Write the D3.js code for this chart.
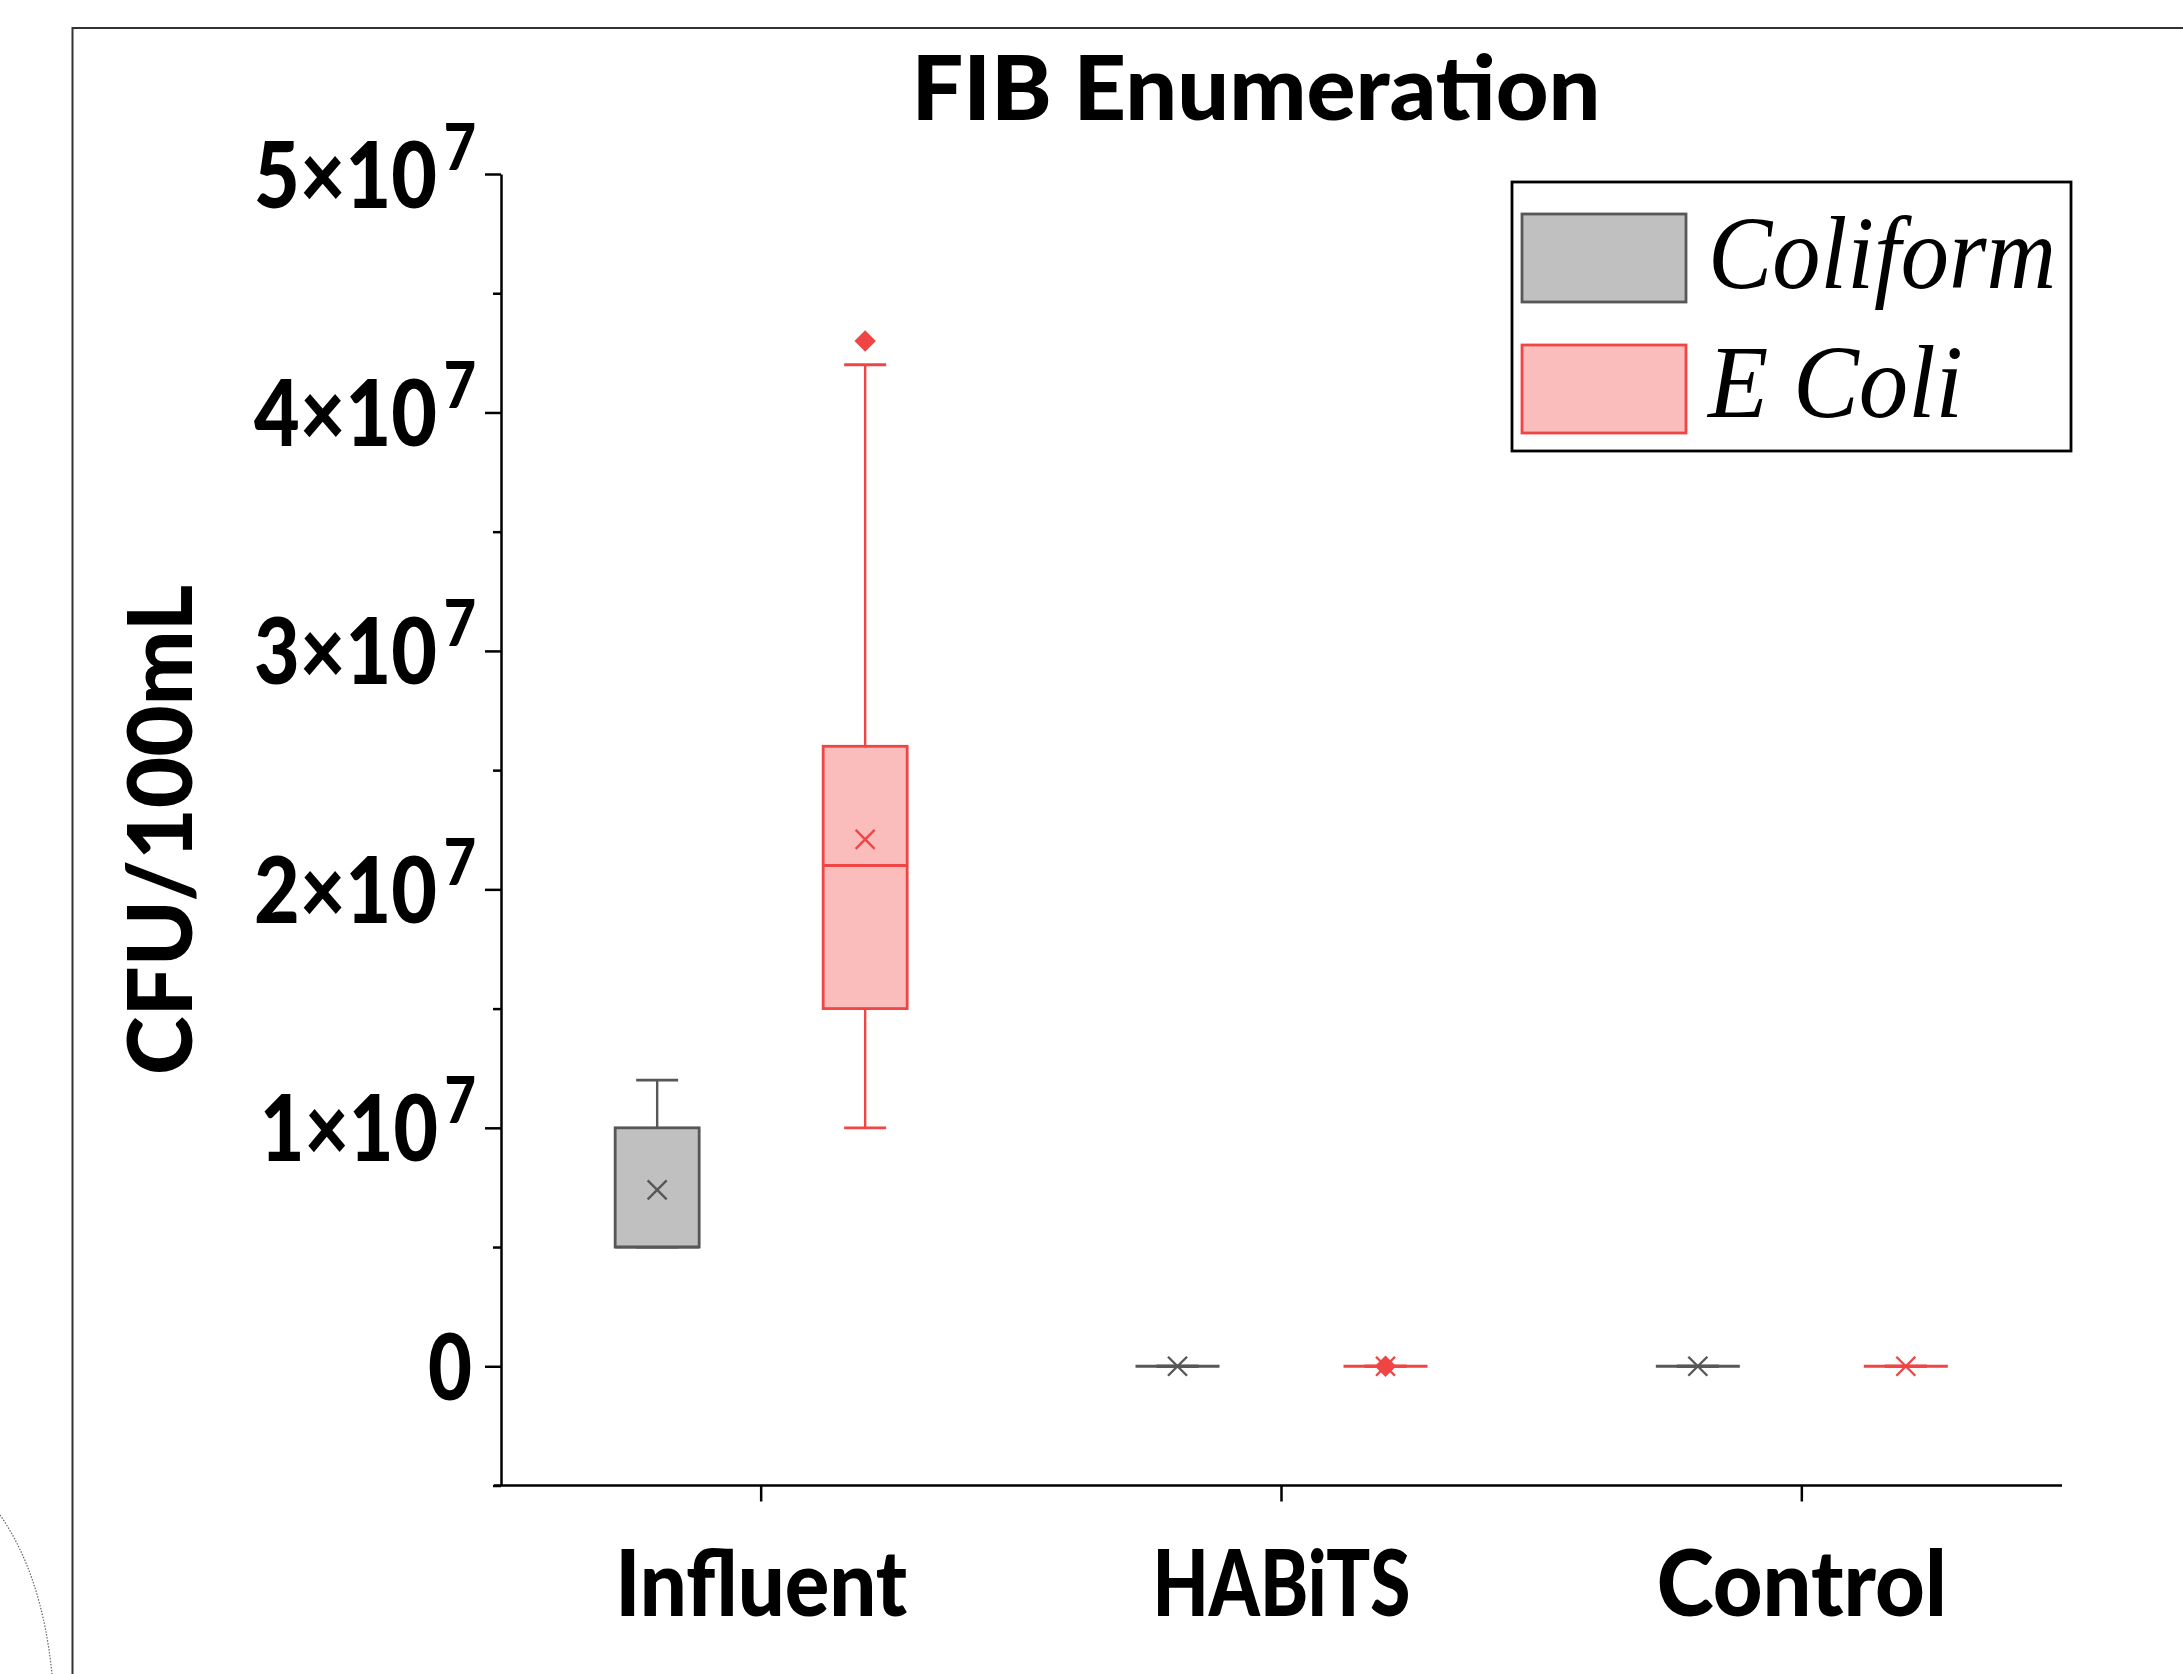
<!DOCTYPE html>
<html>
<head>
<meta charset="utf-8">
<script src="https://cdn.jsdelivr.net/npm/d3@7"></script>
<style>
  html, body { margin: 0; padding: 0; background: #ffffff; }
  svg { display: block; }
</style>
</head>
<body>
<script>
// ---------------- DATA ----------------
const categories = ["Influent", "HABiTS", "Control"];
const seriesNames = ["Coliform", "E Coli"];

const coliformMin     = [5.0e6, 0, 0];
const coliformQ1      = [5.0e6, 0, 0];
const coliformMedian  = [5.0e6, 0, 0];
const coliformQ3      = [1.0e7, 0, 0];
const coliformMax     = [1.2e7, 0, 0];
const coliformMean    = [7.4e6, 0, 0];
const coliformOutliers = [[], [], []];

const ecoliMin     = [1.0e7, 0, 0];
const ecoliQ1      = [1.5e7, 0, 0];
const ecoliMedian  = [2.1e7, 0, 0];
const ecoliQ3      = [2.6e7, 0, 0];
const ecoliMax     = [4.2e7, 0, 0];
const ecoliMean    = [2.21e7, 0, 0];
const ecoliOutliers = [[4.3e7], [0], []];

const yMajorTicks = [0, 1e7, 2e7, 3e7, 4e7, 5e7];
const yMinorTicks = [-5e6, 5e6, 1.5e7, 2.5e7, 3.5e7, 4.5e7];
const yTickMantissa = ["0", "1×10", "2×10", "3×10", "4×10", "5×10"];
const yTickExponent = ["", "7", "7", "7", "7", "7"];
const yDomain = [-5e6, 5e7];

const titleText = "FIB Enumeration";
const yTitleText = "CFU/100mL";

// ---------------- STYLE / LAYOUT ----------------
const W = 2183, H = 1674;
const X0 = 501, X1 = 2062, Y0 = 1485.5, Y1 = 174;
const sansFont = "Lato, 'Open Sans', 'DejaVu Sans', sans-serif";
const serifFont = "'Liberation Serif', 'DejaVu Serif', serif";
const heavy = 900;
const colors = {
  "Coliform": { fill: "#c0c0c0", stroke: "#575757" },
  "E Coli":   { fill: "#fbbcbc", stroke: "#f04545" }
};

const svg = d3.select("body").append("svg")
  .attr("width", W).attr("height", H)
  .attr("viewBox", `0 0 ${W} ${H}`);

svg.append("rect").attr("width", W).attr("height", H).attr("fill", "#fff");

// outer frame
svg.append("path")
  .attr("d", `M${W + 5},28 H72.5 V${H + 5}`)
  .attr("fill", "none").attr("stroke", "#333").attr("stroke-width", 2);

// dotted arc bottom-left (fragment of neighbouring figure)
svg.append("path")
  .attr("d", "M0,1515 Q42,1575 52,1674")
  .attr("fill", "none").attr("stroke", "#666").attr("stroke-width", 1.2)
  .attr("stroke-dasharray", "1.5,1.5");

// ---------------- SCALES ----------------
const x = d3.scaleBand().domain(categories).range([X0, X1]).paddingInner(0).paddingOuter(0);
const y = d3.scaleLinear().domain(yDomain).range([Y0, Y1]);
const offset = { "Coliform": -104, "E Coli": 104 };
const boxW = 84, capW = 42;

// ---------------- AXES ----------------
const yAxisG = svg.append("g").attr("transform", `translate(${X0},0)`)
  .call(d3.axisLeft(y).tickValues(yMajorTicks).tickSize(16).tickSizeOuter(0).tickFormat(() => ""));
const yMinorG = svg.append("g").attr("transform", `translate(${X0},0)`)
  .call(d3.axisLeft(y).tickValues(yMinorTicks).tickSize(8).tickSizeOuter(0).tickFormat(() => ""));
yMinorG.select(".domain").remove();

[yAxisG, yMinorG].forEach(g => {
  g.selectAll("line").attr("stroke", "#000").attr("stroke-width", 2.5);
  g.selectAll(".domain").attr("stroke", "#000").attr("stroke-width", 2.5);
});

const labelWidth = { "0": 44, "1×10": 216, "2×10": 222, "3×10": 222, "4×10": 222, "5×10": 222 };
yAxisG.selectAll(".tick").each(function (d, i) {
  const t = d3.select(this);
  t.selectAll("text").remove();
  const m = yTickMantissa[i], e = yTickExponent[i];
  const txt = t.append("text")
    .attr("x", (e ? 476 : 472) - X0)
    .attr("y", 33)
    .attr("text-anchor", "end")
    .attr("font-family", sansFont).attr("font-weight", heavy)
    .attr("font-size", 92).attr("fill", "#000")
    .attr("textLength", labelWidth[m]).attr("lengthAdjust", "spacingAndGlyphs");
  txt.append("tspan").text(m);
  if (e) {
    txt.append("tspan").attr("dx", 8).attr("dy", -38).attr("font-size", 65).text(e);
  }
});

const xAxisG = svg.append("g").attr("transform", `translate(0,${Y0})`)
  .call(d3.axisBottom(x).tickSize(16).tickSizeOuter(0));
xAxisG.selectAll("line").attr("stroke", "#000").attr("stroke-width", 2.5);
xAxisG.select(".domain").attr("stroke", "#000").attr("stroke-width", 2.5)
  .attr("d", `M${X0 - 7},0H${X1}`);
const xLabelWidth = { "Influent": 292, "HABiTS": 258, "Control": 290 };
xAxisG.selectAll(".tick text")
  .attr("y", 1616 - Y0).attr("dy", 0)
  .attr("font-family", sansFont).attr("font-weight", heavy)
  .attr("font-size", 92).attr("fill", "#000")
  .attr("textLength", d => xLabelWidth[d]).attr("lengthAdjust", "spacingAndGlyphs");

// titles
svg.append("text")
  .attr("x", 1256).attr("y", 120).attr("text-anchor", "middle")
  .attr("font-family", sansFont).attr("font-weight", heavy).attr("font-size", 89)
  .attr("textLength", 689).attr("lengthAdjust", "spacingAndGlyphs")
  .text(titleText);

svg.append("text")
  .attr("transform", "translate(192,830) rotate(-90)")
  .attr("text-anchor", "middle")
  .attr("font-family", sansFont).attr("font-weight", heavy).attr("font-size", 89)
  .attr("textLength", 490).attr("lengthAdjust", "spacingAndGlyphs")
  .text(yTitleText);

// ---------------- BOXES ----------------
const seriesData = {
  "Coliform": { min: coliformMin, q1: coliformQ1, med: coliformMedian, q3: coliformQ3, max: coliformMax, mean: coliformMean, out: coliformOutliers },
  "E Coli":   { min: ecoliMin, q1: ecoliQ1, med: ecoliMedian, q3: ecoliQ3, max: ecoliMax, mean: ecoliMean, out: ecoliOutliers }
};

const plot = svg.append("g");
seriesNames.forEach(s => {
  const sd = seriesData[s];
  const c = colors[s];
  categories.forEach((cat, i) => {
    const cx = x(cat) + x.bandwidth() / 2 + offset[s];
    const g = plot.append("g");
    g.append("line").attr("x1", cx).attr("x2", cx).attr("y1", y(sd.q3[i])).attr("y2", y(sd.max[i]))
      .attr("stroke", c.stroke).attr("stroke-width", 2.4);
    g.append("line").attr("x1", cx).attr("x2", cx).attr("y1", y(sd.q1[i])).attr("y2", y(sd.min[i]))
      .attr("stroke", c.stroke).attr("stroke-width", 2.4);
    [sd.max[i], sd.min[i]].forEach(v => {
      g.append("line").attr("x1", cx - capW / 2).attr("x2", cx + capW / 2)
        .attr("y1", y(v)).attr("y2", y(v))
        .attr("stroke", c.stroke).attr("stroke-width", 2.8);
    });
    g.append("rect")
      .attr("x", cx - boxW / 2).attr("width", boxW)
      .attr("y", y(sd.q3[i])).attr("height", Math.max(0, y(sd.q1[i]) - y(sd.q3[i])))
      .attr("fill", c.fill).attr("stroke", c.stroke).attr("stroke-width", 2.8);
    g.append("line").attr("x1", cx - boxW / 2).attr("x2", cx + boxW / 2)
      .attr("y1", y(sd.med[i])).attr("y2", y(sd.med[i]))
      .attr("stroke", c.stroke).attr("stroke-width", 2.8);
    sd.out[i].forEach(v => {
      g.append("path")
        .attr("transform", `translate(${cx},${y(v)}) rotate(45)`)
        .attr("d", d3.symbol().type(d3.symbolSquare).size(230)())
        .attr("fill", c.stroke);
    });
    const m = 9.5;
    const my = y(sd.mean[i]);
    g.append("path")
      .attr("d", `M${cx - m},${my - m}L${cx + m},${my + m}M${cx - m},${my + m}L${cx + m},${my - m}`)
      .attr("stroke", c.stroke).attr("stroke-width", 2.4).attr("fill", "none");
  });
});

// ---------------- LEGEND ----------------
const legend = svg.append("g");
legend.append("rect").attr("x", 1512).attr("y", 182).attr("width", 559).attr("height", 269)
  .attr("fill", "#fff").attr("stroke", "#000").attr("stroke-width", 2.8);
const legendRowY = [214, 345];
const legendBaseline = [288, 417];
const legendTextWidth = [348, 255];
seriesNames.forEach((s, i) => {
  legend.append("rect").attr("x", 1522).attr("y", legendRowY[i]).attr("width", 164).attr("height", 88)
    .attr("fill", colors[s].fill).attr("stroke", colors[s].stroke).attr("stroke-width", 2.8);
  legend.append("text").attr("x", 1708).attr("y", legendBaseline[i])
    .attr("font-family", serifFont).attr("font-style", "italic").attr("font-size", 104)
    .attr("textLength", legendTextWidth[i]).attr("lengthAdjust", "spacingAndGlyphs")
    .attr("fill", "#000")
    .text(s);
});
</script>
</body>
</html>
